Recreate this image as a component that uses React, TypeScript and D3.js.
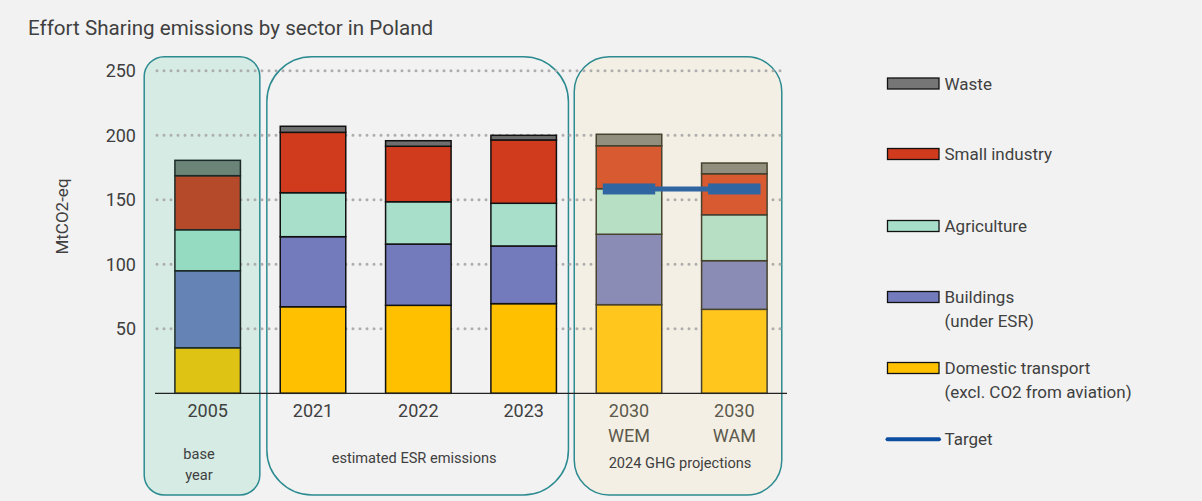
import React from "react";
import * as d3 from "d3";

const categories = ["2005", "2021", "2022", "2023", "2030 WEM", "2030 WAM"];
const transport = [35.3, 67.1, 68.2, 69.5, 68.7, 65.1];
const buildings = [59.7, 54.3, 47.5, 44.7, 54.6, 37.7];
const agriculture = [31.8, 34.1, 32.8, 33.1, 35.3, 35.6];
const smallIndustry = [41.9, 46.8, 43.0, 49.1, 33.3, 31.8];
const waste = [11.9, 4.7, 4.3, 3.6, 8.9, 8.3];
const target = [null, null, null, null, 158.4, 158.4];
const yTicks = [50, 100, 150, 200, 250];
const seriesKeys = ["transport", "buildings", "agriculture", "smallIndustry", "waste"];
const groups = [
  { name: "base", cats: ["2005"], label: ["base", "year"] },
  { name: "esr", cats: ["2021", "2022", "2023"], label: ["estimated ESR emissions"] },
  { name: "proj", cats: ["2030 WEM", "2030 WAM"], label: ["2024 GHG projections"] },
];
const legendItems = [
  { key: "waste", lines: ["Waste"] },
  { key: "smallIndustry", lines: ["Small industry"] },
  { key: "agriculture", lines: ["Agriculture"] },
  { key: "buildings", lines: ["Buildings", "(under ESR)"] },
  { key: "transport", lines: ["Domestic transport", "(excl. CO2 from aviation)"] },
  { key: "target", lines: ["Target"] },
];

// styling
const palettes: Record<string, Record<string, string>> = {
  base: { transport: "#dec214", buildings: "#6683b6", agriculture: "#95dbc2", smallIndustry: "#b54a2b", waste: "#6a8478" },
  esr: { transport: "#ffc000", buildings: "#737bbd", agriculture: "#a8dfcb", smallIndustry: "#d03b1e", waste: "#6f6f6f" },
  proj: { transport: "#ffc61e", buildings: "#8b8cb5", agriculture: "#b6dfc4", smallIndustry: "#d85a31", waste: "#928f7e" },
};
const barStroke: Record<string, string> = { base: "#1d2b28", esr: "#111", proj: "#47432f" };
const boxStyle: Record<string, { fill: string; padL: number; padR: number; r: number }> = {
  base: { fill: "#d5ebe3", padL: 30.7, padR: 19.4, r: 20 },
  esr: { fill: "#f2f2f2", padL: 13.4, padR: 12, r: 45 },
  proj: { fill: "#f4efe4", padL: 22, padR: 14.7, r: 35 },
};
const legendColors: Record<string, string> = {
  waste: "#767676", smallIndustry: "#d03b1e", agriculture: "#a8dfcb", buildings: "#737bbd", transport: "#ffc000",
};
const FONT = "Roboto, 'DejaVu Sans', sans-serif";
const TXT = "#404040";

export default function App() {
  const W = 1202, H = 501;
  const x = d3.scaleBand<string>().domain(categories).range([155, 787]).paddingInner(0.378).paddingOuter(0.189);
  const y = d3.scaleLinear().domain([0, 250]).range([393.3, 70.8]);
  const rows = categories.map((c, i) => ({
    cat: c,
    transport: transport[i],
    buildings: buildings[i],
    agriculture: agriculture[i],
    smallIndustry: smallIndustry[i],
    waste: waste[i],
  }));
  const stack = d3.stack<any>().keys(seriesKeys)(rows);
  const groupOf = (c: string) => groups.find((g) => g.cats.includes(c))!.name;
  const bw = x.bandwidth();

  const targetPts = categories
    .map((c, i) => ({ c, v: target[i] }))
    .filter((d) => d.v != null) as { c: string; v: number }[];

  const legendY = [83.5, 154, 226, 297, 368, 439.3];

  return (
    <div style={{ position: "absolute", left: 0, top: 0 }}>
      <svg width={W} height={H} style={{ display: "block", fontFamily: FONT }}>
        <rect x={0} y={0} width={W} height={H} fill="#f2f2f2" />
        <text x={28} y={35} fontSize={20.6} fill={TXT}>Effort Sharing emissions by sector in Poland</text>

        {/* group boxes */}
        {groups.map((g) => {
          const s = boxStyle[g.name];
          const x0 = x(g.cats[0])! - s.padL;
          const x1 = x(g.cats[g.cats.length - 1])! + bw + s.padR;
          return (
            <rect key={g.name} x={x0} y={56.7} width={x1 - x0} height={495 - 56.7} rx={s.r} ry={s.r}
              fill={s.fill} stroke="#2c8b91" strokeWidth={1.5} />
          );
        })}

        {/* grid */}
        {yTicks.map((t) => (
          <line key={t} x1={157} x2={787} y1={y(t)} y2={y(t)} stroke="#adadad" strokeWidth={3}
            strokeLinecap="round" strokeDasharray="0 7" />
        ))}
        {yTicks.map((t) => (
          <text key={"l" + t} x={136} y={y(t) + 6.5} fontSize={18} fill={TXT} textAnchor="end">{t}</text>
        ))}
        <text transform={`translate(68,${216.5}) rotate(-90)`} fontSize={17} fill={TXT} textAnchor="middle">MtCO2-eq</text>

        {/* bars */}
        {stack.map((s) =>
          s.map((d: any, i: number) => {
            const c = categories[i];
            const g = groupOf(c);
            return (
              <rect key={s.key + c} x={x(c)} y={y(d[1])} width={bw} height={y(d[0]) - y(d[1])}
                fill={palettes[g][s.key]} stroke={barStroke[g]} strokeWidth={1.5} />
            );
          })
        )}

        {/* axis line */}
        <line x1={155} x2={787} y1={y(0)} y2={y(0)} stroke="#222" strokeWidth={1.2} />

        {/* target */}
        {targetPts.length > 1 && (
          <line x1={x(targetPts[0].c)! + bw / 2} x2={x(targetPts[targetPts.length - 1].c)! + bw / 2}
            y1={y(targetPts[0].v)} y2={y(targetPts[0].v)} stroke="#2f66a1" strokeWidth={5} />
        )}
        {targetPts.map((d) => (
          <rect key={"t" + d.c} x={x(d.c)! + bw * 0.1} y={y(d.v) - 5.5} width={bw * 0.8} height={11} fill="#2f66a1" />
        ))}

        {/* x labels */}
        {categories.map((c) => {
          const g = groupOf(c);
          const parts = c.split(" ");
          return (
            <text key={"x" + c} x={x(c)! + bw / 2} y={416.7} fontSize={18} textAnchor="middle"
              fill={g === "proj" ? "#5c5a4c" : TXT}>
              {parts.map((p, k) => (
                <tspan key={k} x={x(c)! + bw / 2} dy={k === 0 ? 0 : 25}>{p}</tspan>
              ))}
            </text>
          );
        })}

        {/* group labels */}
        {groups.map((g) => {
          const s = boxStyle[g.name];
          const x0 = x(g.cats[0])! - s.padL;
          const x1 = x(g.cats[g.cats.length - 1])! + bw + s.padR;
          const cx = (x0 + x1) / 2 - (g.name === "base" ? 3 : g.name === "esr" ? 3.5 : -2);
          const y0 = g.name === "base" ? 459.3 : g.name === "esr" ? 463.3 : 468.3;
          return (
            <text key={"g" + g.name} x={cx} y={y0} fontSize={14.6} textAnchor="middle" fill={TXT}>
              {g.label.map((l, k) => (
                <tspan key={k} x={cx} dy={k === 0 ? 0 : 21}>{l}</tspan>
              ))}
            </text>
          );
        })}

        {/* legend */}
        {legendItems.map((it, i) => {
          const cy = legendY[i];
          return (
            <g key={it.key}>
              {it.key === "target" ? (
                <line x1={887.5} x2={939} y1={cy} y2={cy} stroke="#0d4ea1" strokeWidth={4} strokeLinecap="round" />
              ) : (
                <rect x={887.5} y={cy - 5.5} width={51.5} height={11} fill={legendColors[it.key]} stroke="#111" strokeWidth={1.3} />
              )}
              <text x={944.5} y={cy + 6} fontSize={17} fill={TXT}>
                {it.lines.map((l, k) => (
                  <tspan key={k} x={944.5} dy={k === 0 ? 0 : 24}>{l}</tspan>
                ))}
              </text>
            </g>
          );
        })}
      </svg>
    </div>
  );
}
